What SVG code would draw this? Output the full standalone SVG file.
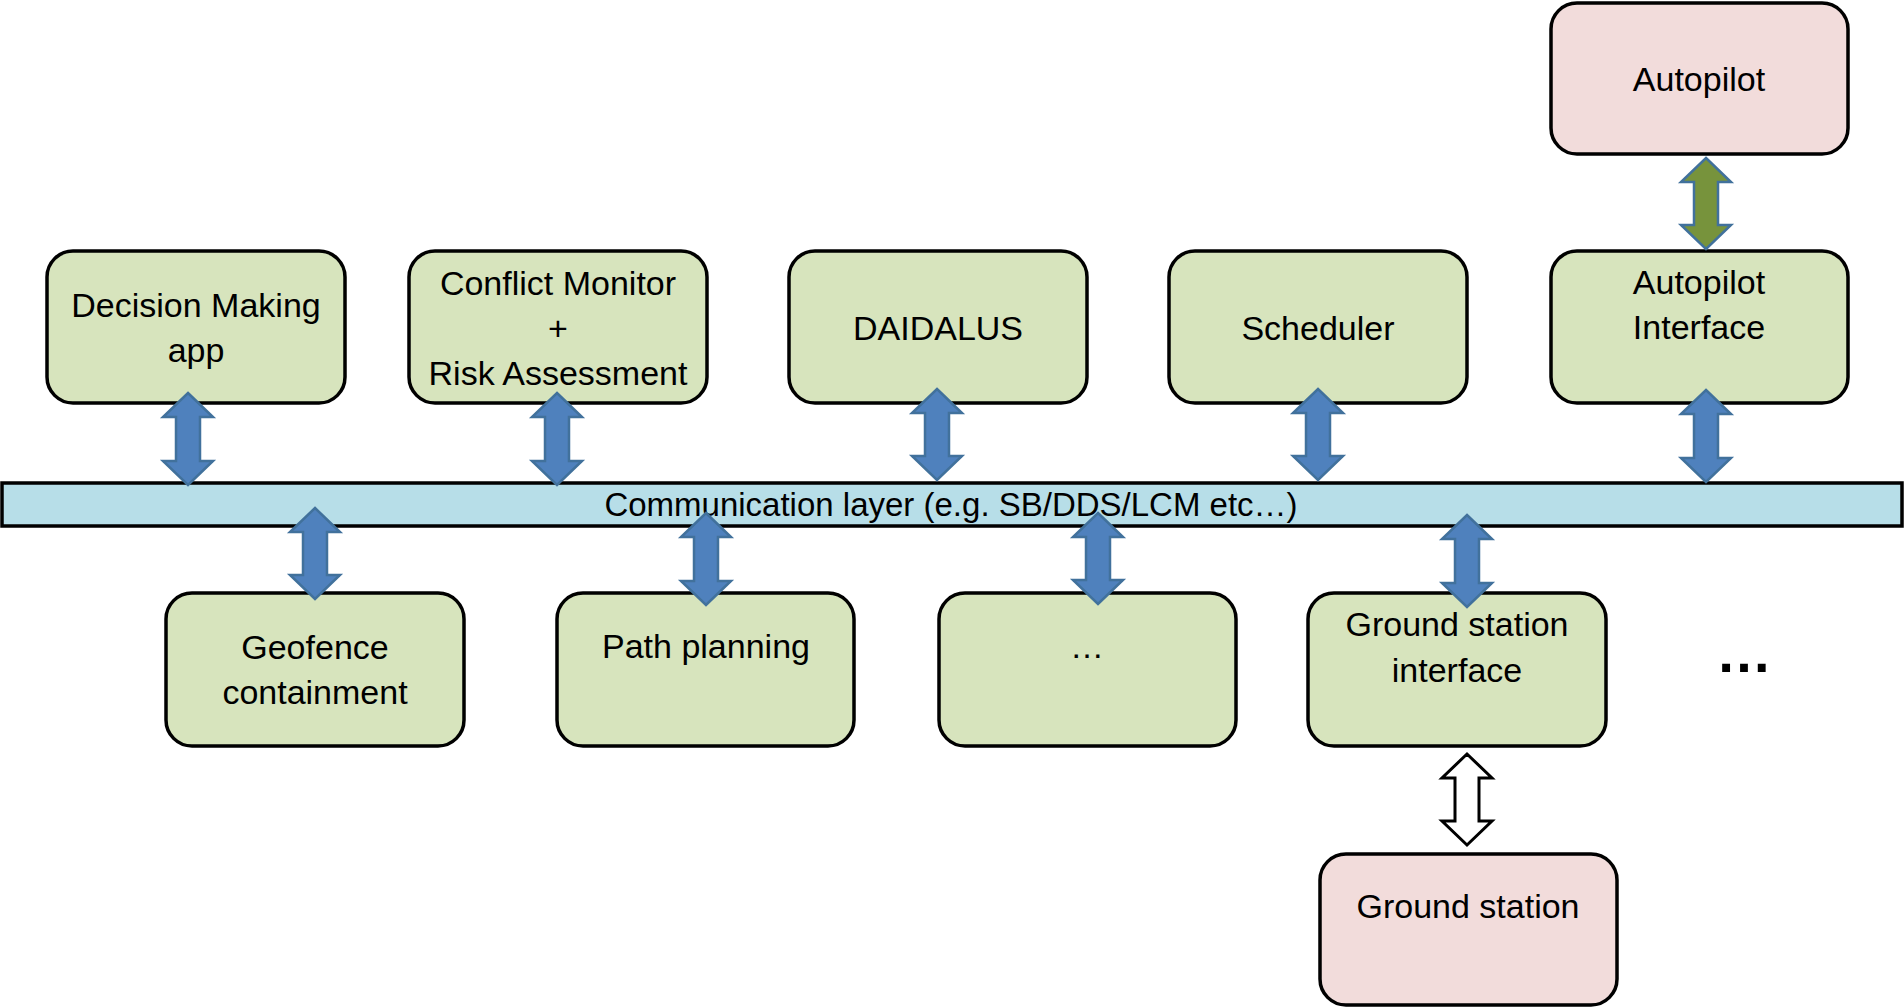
<svg xmlns="http://www.w3.org/2000/svg" width="1904" height="1008" viewBox="0 0 1904 1008">
<style>
.box{stroke:#000;stroke-width:3.5}
.g{fill:#D7E4BD}
.p{fill:#F2DCDB}
.bar{fill:#B7DEE8;stroke:#000;stroke-width:3.5}
text{font-family:"Liberation Sans",Arial,sans-serif;font-size:34px;fill:#000;text-anchor:middle}
.blue{fill:#4F81BD;stroke:#41719C;stroke-width:2.5;stroke-linejoin:miter}
.green{fill:#77933C;stroke:#41719C;stroke-width:2.5}
.hollow{fill:#fff;stroke:#000;stroke-width:3}
</style>
<rect width="1904" height="1008" fill="#fff"/>
<g id="autopilot"><rect class="box p" x="1551" y="3" width="297" height="151" rx="26"/><text x="1699" y="91">Autopilot</text></g>
<g id="decision"><rect class="box g" x="47" y="251" width="298" height="152" rx="26"/><text x="196" y="317">Decision Making</text><text x="196" y="362">app</text></g>
<g id="conflict"><rect class="box g" x="409" y="251" width="298" height="152" rx="26"/><text x="558" y="295">Conflict Monitor</text><text x="558" y="340">+</text><text x="558" y="385">Risk Assessment</text></g>
<g id="daidalus"><rect class="box g" x="789" y="251" width="298" height="152" rx="26"/><text x="938" y="340">DAIDALUS</text></g>
<g id="scheduler"><rect class="box g" x="1169" y="251" width="298" height="152" rx="26"/><text x="1318" y="340">Scheduler</text></g>
<g id="apinterface"><rect class="box g" x="1551" y="251" width="297" height="152" rx="26"/><text x="1699" y="294">Autopilot</text><text x="1699" y="339">Interface</text></g>
<g id="commlayer"><rect class="bar" x="2" y="483" width="1900" height="43"/><text x="951" y="516" style="font-size:33px">Communication layer (e.g. SB/DDS/LCM etc…)</text></g>
<g id="geofence"><rect class="box g" x="166" y="593" width="298" height="153" rx="26"/><text x="315" y="659">Geofence</text><text x="315" y="704">containment</text></g>
<g id="pathplanning"><rect class="box g" x="557" y="593" width="297" height="153" rx="26"/><text x="706" y="658">Path planning</text></g>
<g id="ellipsisbox"><rect class="box g" x="939" y="593" width="297" height="153" rx="26"/><text x="1087" y="658">…</text></g>
<g id="gsinterface"><rect class="box g" x="1308" y="593" width="298" height="153" rx="26"/><text x="1457" y="636">Ground station</text><text x="1457" y="682">interface</text></g>
<g id="groundstation"><rect class="box p" x="1320" y="854" width="297" height="151" rx="26"/><text x="1468" y="918">Ground station</text></g>
<g id="more"><text x="1744" y="672" style="font-size:56px;font-weight:bold">…</text></g>
<g id="connectors">
<path class="green" d="M1706,158 L1731,182 L1718,182 L1718,225 L1731,225 L1706,249 L1681,225 L1694,225 L1694,182 L1681,182 Z"/>
<path class="blue" d="M188,393 L213,417 L200,417 L200,461 L213,461 L188,485 L163,461 L176,461 L176,417 L163,417 Z"/>
<path class="blue" d="M557,393 L582,417 L569,417 L569,461 L582,461 L557,485 L532,461 L545,461 L545,417 L532,417 Z"/>
<path class="blue" d="M937,389 L962,413 L949,413 L949,456 L962,456 L937,480 L912,456 L925,456 L925,413 L912,413 Z"/>
<path class="blue" d="M1318,389 L1343,413 L1330,413 L1330,456 L1343,456 L1318,480 L1293,456 L1306,456 L1306,413 L1293,413 Z"/>
<path class="blue" d="M1706,390 L1731,414 L1718,414 L1718,458 L1731,458 L1706,482 L1681,458 L1694,458 L1694,414 L1681,414 Z"/>
<path class="blue" d="M315,508 L340,532 L327,532 L327,575 L340,575 L315,599 L290,575 L303,575 L303,532 L290,532 Z"/>
<path class="blue" d="M706,513 L731,537 L718,537 L718,581 L731,581 L706,605 L681,581 L694,581 L694,537 L681,537 Z"/>
<path class="blue" d="M1098,513 L1123,537 L1110,537 L1110,580 L1123,580 L1098,604 L1073,580 L1086,580 L1086,537 L1073,537 Z"/>
<path class="blue" d="M1467,515 L1492,539 L1479,539 L1479,583 L1492,583 L1467,607 L1442,583 L1455,583 L1455,539 L1442,539 Z"/>
<path class="hollow" d="M1467,754 L1492,778 L1479,778 L1479,821 L1492,821 L1467,845 L1442,821 L1455,821 L1455,778 L1442,778 Z"/>
</g>
</svg>
